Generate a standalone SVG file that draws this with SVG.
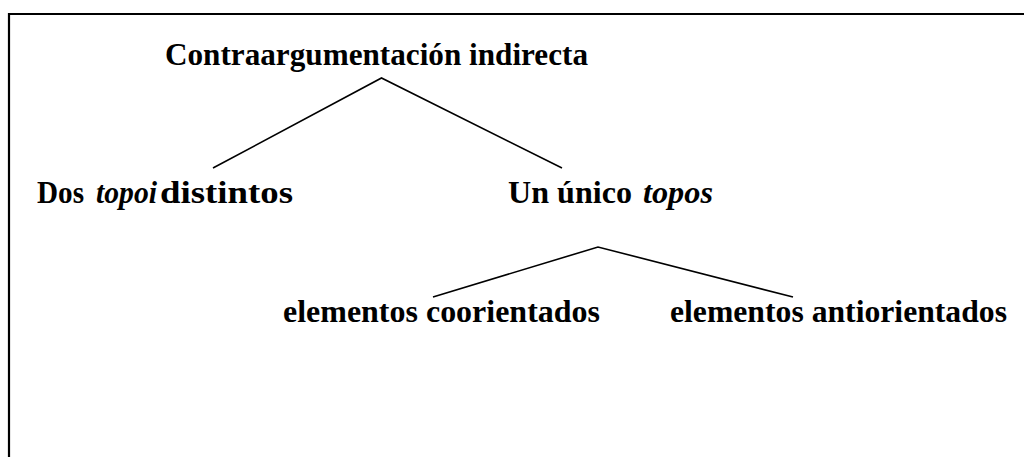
<svg xmlns="http://www.w3.org/2000/svg" width="1024" height="457" viewBox="0 0 1024 457">
<style>
text{font-family:"Liberation Serif","Times New Roman",serif;font-weight:bold;font-size:31px;fill:#000}
.it{font-style:italic}
.edge{stroke:#000;stroke-width:1.6;fill:none}
</style>
<rect width="1024" height="457" fill="#fff"/>
<path d="M9 457 V14 H1024" stroke="#000" stroke-width="2.2" fill="none"/>
<g id="connectors">
<path class="edge" d="M213 168 L381.5 78 L562 168"/>
<path class="edge" d="M433 297 L598 247 L793 297"/>
</g>
<g id="n-root"><text x="165" y="65" textLength="423" lengthAdjust="spacingAndGlyphs">Contraargumentación indirecta</text></g>
<g id="n-dos">
<text x="37" y="203" textLength="47" lengthAdjust="spacingAndGlyphs">Dos</text>
<text class="it" x="96" y="203" textLength="61" lengthAdjust="spacingAndGlyphs">topoi</text>
<text x="160" y="203" textLength="133" lengthAdjust="spacingAndGlyphs">distintos</text>
</g>
<g id="n-un">
<text x="508" y="203" textLength="124" lengthAdjust="spacingAndGlyphs">Un único</text>
<text class="it" x="643" y="203" textLength="70" lengthAdjust="spacingAndGlyphs">topos</text>
</g>
<g id="n-co"><text x="283" y="322" textLength="317" lengthAdjust="spacingAndGlyphs">elementos coorientados</text></g>
<g id="n-anti"><text x="670" y="322" textLength="337" lengthAdjust="spacingAndGlyphs">elementos antiorientados</text></g>
</svg>
